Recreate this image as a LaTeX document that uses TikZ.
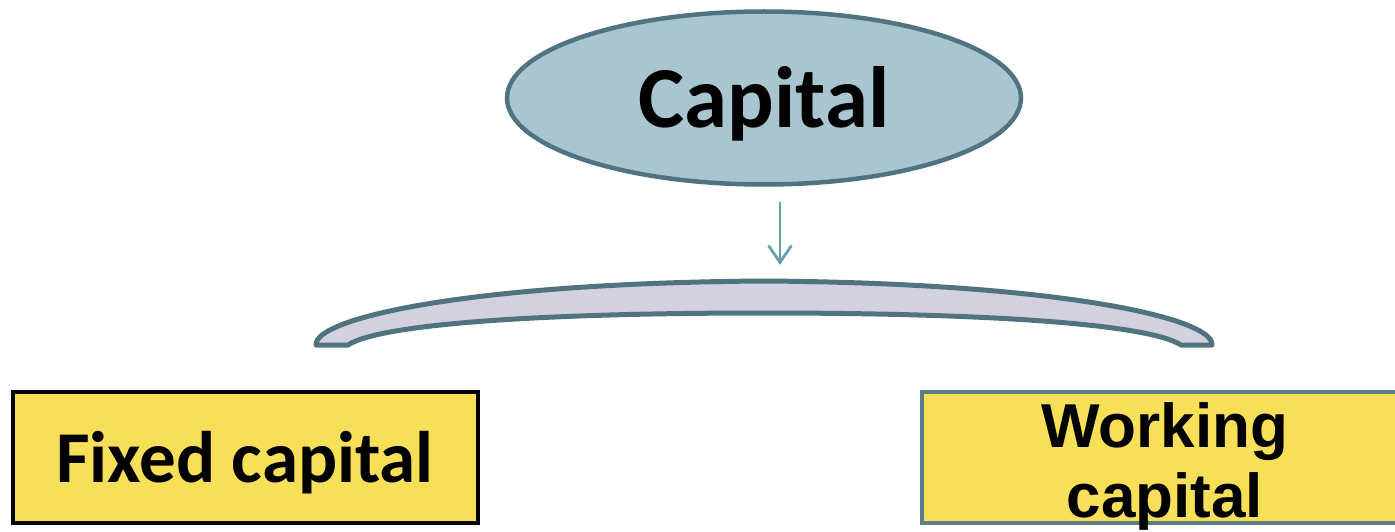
\documentclass[tikz,border=0pt]{standalone}
\usepackage{fontspec}
\setmainfont{Carlito}
\newfontfamily\arialfont{Liberation Sans}
\usetikzlibrary{shapes.geometric, arrows.meta}
\definecolor{capfill}{RGB}{169, 198, 208}
\definecolor{slateedge}{RGB}{79, 116, 128}
\definecolor{bracefill}{RGB}{211, 209, 221}
\definecolor{boxyellow}{RGB}{247, 223, 87}
\definecolor{arrowblue}{RGB}{106, 157, 174}
\definecolor{boxedge}{RGB}{90, 125, 136}

\begin{document}
\begin{tikzpicture}[
    x=1pt, y=-1pt,
    topnode/.style={ellipse, draw=slateedge, line width=4.5pt, fill=capfill,
                    minimum width=514pt, minimum height=173pt, inner sep=0pt,
                    text height=75pt, text depth=15pt,
                    font=\fontsize{87}{100}\selectfont\bfseries},
    kindbox/.style={rectangle, line width=4pt, fill=boxyellow,
                    minimum width=465pt, minimum height=131pt, inner sep=0pt},
    arr/.style={draw=arrowblue, line width=2.8pt,
                -{Straight Barb[length=17pt, width=23pt, line width=2.8pt]}}
]
    \clip (0,0) rectangle (1395,532);
    \useasboundingbox (0,0) rectangle (1395,532);

    % Top
    \node[topnode] (cap) at (764,98) {Capital};

    % Brace
    \draw[draw=slateedge, line width=5pt, fill=bracefill, line join=round]
        (316,345) .. controls (314,318) and (470,283) .. (764,281)
        .. controls (1058,283) and (1214,318) .. (1212,345)
        -- (1181,345) .. controls (1150,325) and (1000,313) .. (764,313)
        .. controls (528,313) and (378,325) .. (348,345) -- cycle;
    \coordinate (bracetip) at (780,265);
    \draw[arr] ([xshift=16pt, yshift=-15pt]cap.south) -- (bracetip);

    % Kinds of capital
    \node[kindbox, draw=black, text height=60pt, text depth=11pt,
          font=\fontsize{73}{90}\selectfont\bfseries] (fixed) at (245,457.5) {Fixed capital};
    \node[kindbox, draw=boxedge, minimum width=488pt] (working) at (1166,457.5) {};
    \node[anchor=base, align=center, inner sep=0pt,
          font=\arialfont\fontsize{62}{70}\selectfont\bfseries] (worktext) at (1165,517) {Working\\capital};
\end{tikzpicture}
\end{document}
